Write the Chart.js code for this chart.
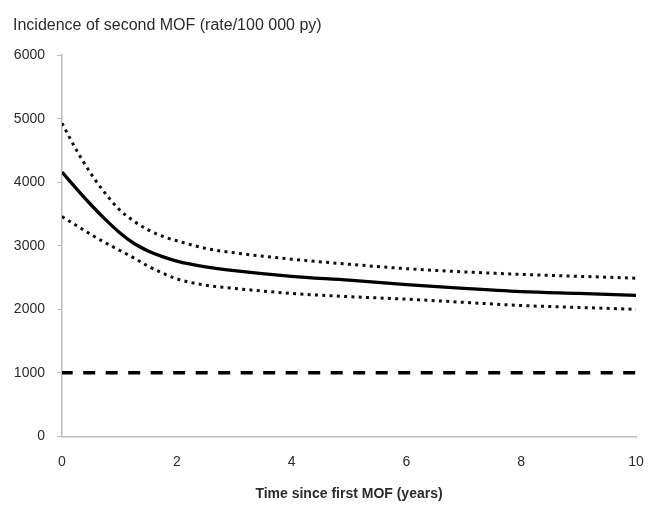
<!DOCTYPE html>
<html>
<head>
<meta charset="utf-8">
<script src="https://cdn.jsdelivr.net/npm/chart.js@4"></script>
<style>
  body { margin: 0; background: #fff; }
  #wrap { width: 657px; height: 507px; }
</style>
</head>
<body>
<div id="wrap"><canvas id="chart" width="657" height="507"></canvas></div>
<script>
// values
const years = [0, 0.25, 0.5, 0.75, 1, 1.25, 1.5, 1.75, 2, 2.5, 3, 4, 5, 6, 7, 8, 9, 10];
const incidence = [4160, 3900, 3650, 3420, 3210, 3040, 2920, 2830, 2760, 2670, 2610, 2520, 2460, 2390, 2330, 2280, 2250, 2220];
const upperCI = [4930, 4510, 4140, 3830, 3570, 3390, 3250, 3150, 3080, 2960, 2890, 2790, 2710, 2640, 2590, 2550, 2520, 2490];
const lowerCI = [3460, 3320, 3180, 3050, 2930, 2810, 2680, 2570, 2480, 2380, 2330, 2250, 2200, 2160, 2110, 2060, 2030, 2000];
const refYears = [0, 10];
const refRate = [1000, 1000];
const xTicks = [0, 2, 4, 6, 8, 10];
const yTicks = [0, 1000, 2000, 3000, 4000, 5000, 6000];

function pts(xs, ys) {
  return xs.map((x, i) => ({ x: x, y: ys[i] }));
}

const textColor = "#2b2b2b";
const axisColor = "#bdbdbd";

const ctx = document.getElementById("chart").getContext("2d");
const myChart = new Chart(ctx, {
  type: "line",
  data: {
    datasets: [
      {
        label: "Upper 95% CI",
        data: pts(years, upperCI),
        borderColor: "#111",
        borderWidth: 3,
        borderDash: [3, 4.3],
        pointRadius: 0,
        cubicInterpolationMode: "monotone",
      },
      {
        label: "Incidence",
        data: pts(years, incidence),
        borderColor: "#000",
        borderWidth: 3.3,
        pointRadius: 0,
        cubicInterpolationMode: "monotone",
      },
      {
        label: "Lower 95% CI",
        data: pts(years, lowerCI),
        borderColor: "#111",
        borderWidth: 3,
        borderDash: [3, 4.3],
        pointRadius: 0,
        cubicInterpolationMode: "monotone",
      },
      {
        label: "Reference",
        data: pts(refYears, refRate),
        borderColor: "#000",
        borderWidth: 3.5,
        borderDash: [12, 10.5],
        borderDashOffset: 1.3,
        pointRadius: 0,
      },
    ],
  },
  options: {
    responsive: false,
    animation: false,
    layout: { padding: { left: 13, right: 21, top: 0, bottom: 4 } },
    plugins: {
      legend: { display: false },
      tooltip: { enabled: false },
      title: {
        display: true,
        text: "Incidence of second MOF (rate/100 000 py)",
        align: "start",
        color: textColor,
        font: { family: "Liberation Sans", size: 16, weight: "normal" },
        padding: { top: 16, bottom: 20 },
      },
    },
    scales: {
      x: {
        type: "linear",
        min: 0,
        max: 10,
        afterBuildTicks: (axis) => { axis.ticks = xTicks.map((v) => ({ value: v })); },
        grid: { display: false, drawTicks: true, tickLength: 5, color: axisColor },
        border: { color: axisColor, width: 1.5 },
        ticks: {
          color: textColor,
          font: { family: "Liberation Sans", size: 14 },
          padding: 12,
          maxRotation: 0,
          callback: (v) => String(v),
        },
        title: {
          display: true,
          text: "Time since first MOF (years)",
          color: textColor,
          font: { family: "Liberation Sans", size: 14, weight: "bold" },
          padding: { top: 4, bottom: 0 },
        },
      },
      y: {
        min: 0,
        max: 6000,
        afterBuildTicks: (axis) => { axis.ticks = yTicks.map((v) => ({ value: v })); },
        afterFit: (axis) => { axis.width = 49; },
        grid: {
          drawOnChartArea: false,
          tickLength: 5,
          color: axisColor,
        },
        border: { color: axisColor, width: 1.5 },
        ticks: {
          color: textColor,
          font: { family: "Liberation Sans", size: 14 },
          padding: 12,
          callback: (v) => String(v),
        },
      },
    },
  },
});
</script>
</body>
</html>
